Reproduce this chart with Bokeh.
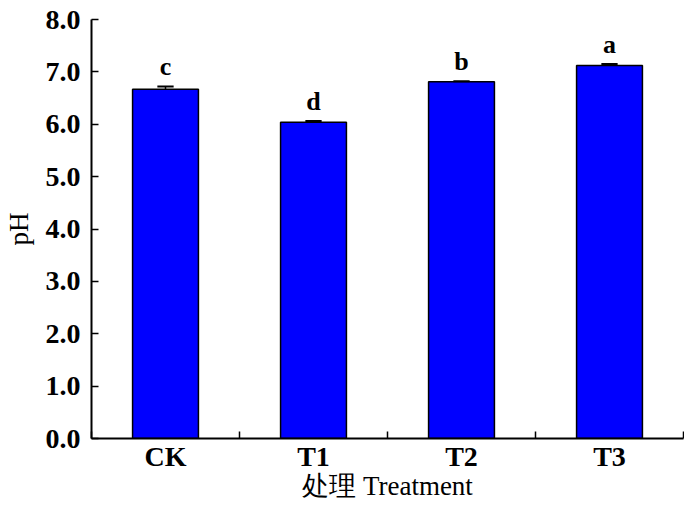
from bokeh.plotting import figure
from bokeh.models import FixedTicker, NumeralTickFormatter, Range1d, ColumnDataSource
from bokeh.core.properties import value
from bokeh.embed import file_html
from bokeh.resources import INLINE

categories = ["CK", "T1", "T2", "T3"]
ph_values = [6.67, 6.04, 6.81, 7.12]
ph_errors = [0.05, 0.02, 0.01, 0.03]
sig_letters = ["c", "d", "b", "a"]
y_ticks = [0, 1, 2, 3, 4, 5, 6, 7, 8]

xs = [i + 0.5 for i in range(len(categories))]
src = ColumnDataSource(dict(
    x=xs, top=ph_values, err=ph_errors,
    upper=[v + e for v, e in zip(ph_values, ph_errors)],
    lab=sig_letters,
    cap_l=[x - 0.055 for x in xs], cap_r=[x + 0.055 for x in xs],
))

SERIF = "'Liberation Serif', 'Times New Roman', serif"
p = figure(width=684, height=503, output_backend="svg", toolbar_location=None,
           x_range=Range1d(0, len(categories)), y_range=Range1d(0, 8),
           min_border_left=90, min_border_right=1, min_border_top=19, min_border_bottom=60)
p.outline_line_color = None
p.xgrid.grid_line_color = None
p.ygrid.grid_line_color = None

p.vbar(x="x", top="top", width=0.445, bottom=0, source=src,
       fill_color="#0000FF", line_color="black", line_width=1.5)
p.segment(x0="x", y0="top", x1="x", y1="upper", source=src, line_color="black", line_width=1.5)
p.segment(x0="cap_l", y0="upper", x1="cap_r", y1="upper", source=src, line_color="black", line_width=2)
p.text(x="x", y="upper", text="lab", source=src, y_offset=-20,
       text_align="center", text_baseline="alphabetic",
       text_font=value(SERIF), text_font_style="bold", text_font_size="26px", text_color="black")

# x axis
p.xaxis.ticker = FixedTicker(ticks=xs, minor_ticks=list(range(len(categories) + 1)))
p.xaxis.major_label_overrides = {x: c for x, c in zip(xs, categories)}
p.xaxis.major_tick_line_color = None
p.xaxis.minor_tick_in = 7
p.xaxis.minor_tick_out = 0
p.xaxis.minor_tick_line_width = 1.5
p.xaxis.axis_label = "处理 Treatment"

# y axis
p.yaxis.ticker = FixedTicker(ticks=y_ticks, minor_ticks=[])
p.yaxis.formatter = NumeralTickFormatter(format="0.0")
p.yaxis.major_tick_in = 7
p.yaxis.major_tick_out = 0
p.yaxis.major_tick_line_width = 1.5
p.yaxis.minor_tick_line_color = None
p.yaxis.axis_label = "pH"

for ax in (p.xaxis, p.yaxis):
    ax.axis_line_width = 2
    ax.axis_line_color = "black"
    ax.major_label_text_font = SERIF
    ax.major_label_text_font_style = "bold"
    ax.major_label_text_font_size = "28px"
    ax.major_label_text_color = "black"
    ax.axis_label_text_font = SERIF
    ax.axis_label_text_font_style = "normal"
    ax.axis_label_text_font_size = "27px"
    ax.axis_label_text_color = "black"

p.xaxis.major_label_standoff = -4
p.xaxis.axis_label_standoff = -4
p.yaxis.major_label_standoff = 11
p.yaxis.axis_label_standoff = 9

open("out.html", "w").write(file_html(p, INLINE))
